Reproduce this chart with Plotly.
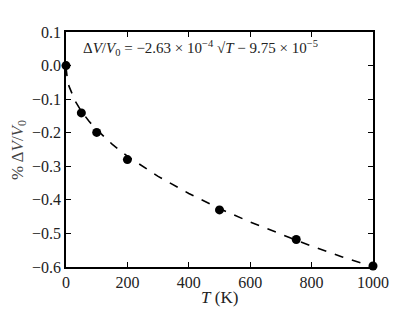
import plotly.graph_objects as go

# measured data points
T_pts = [0, 50, 100, 200, 500, 750, 1000]
dv_pts = [0.0, -0.141, -0.199, -0.280, -0.430, -0.518, -0.597]

# dashed fit curve
T_fit = [0, 2, 5, 10, 20, 30, 50, 75, 100, 150, 200, 300, 400, 500, 600, 700, 800, 900, 1000]
dv_fit = [-0.005, -0.03, -0.045, -0.062, -0.087, -0.106, -0.136, -0.166, -0.191, -0.234, -0.270,
          -0.330, -0.381, -0.426, -0.466, -0.503, -0.538, -0.570, -0.600]

x_ticks = [0, 200, 400, 600, 800, 1000]
y_ticks = [0.1, 0.0, -0.1, -0.2, -0.3, -0.4, -0.5, -0.6]

FONT = "Liberation Serif"

fig = go.Figure()
fig.add_trace(go.Scatter(x=T_fit, y=dv_fit, mode="lines",
                         line=dict(color="black", width=1.6, dash="dash"),
                         showlegend=False, hoverinfo="skip"))
fig.add_trace(go.Scatter(x=T_pts, y=dv_pts, mode="markers",
                         marker=dict(color="black", size=9),
                         showlegend=False, cliponaxis=False))

axis_common = dict(showline=True, linecolor="black", linewidth=1.5, mirror="ticks",
                   ticks="inside", ticklen=5, tickwidth=1, tickcolor="black",
                   showgrid=False, zeroline=False, automargin=False,
                   tickfont=dict(family=FONT, size=16, color="#222"))

fig.update_xaxes(range=[0, 1000], tickvals=x_ticks, ticktext=[str(v) for v in x_ticks],
                 **axis_common)
fig.update_yaxes(range=[-0.6, 0.1], tickvals=y_ticks,
                 ticktext=[("\u2212" if v < 0 else "") + f"{abs(v):.1f}" for v in y_ticks],
                 **axis_common)

# axis titles
fig.add_annotation(x=0.5, y=-0.128, xref="paper", yref="paper", xanchor="center", yanchor="middle",
                   text="<i>T</i> (K)", showarrow=False,
                   font=dict(family=FONT, size=17, color="#222"))
fig.add_annotation(x=-0.155, y=0.5, xref="paper", yref="paper", xanchor="center", yanchor="middle",
                   text="% Δ<i>V</i>/<i>V</i><sub>0</sub>", showarrow=False, textangle=-90,
                   font=dict(family=FONT, size=17, color="#444"))

# fit equation
fig.add_annotation(x=0.05, y=0.053, xref="paper", yref="y", xanchor="left", yanchor="middle",
                   text="Δ<i>V</i>/<i>V</i><sub>0</sub> = \u22122.63 × 10<sup>\u22124</sup> √<i>T</i>"
                        " \u2212 9.75 × 10<sup>\u22125</sup>",
                   showarrow=False, font=dict(family=FONT, size=15, color="#222"))

# page body adds an 8px margin, so the figure is sized to fit the window
fig.update_layout(width=407, height=304, margin=dict(l=58, r=42, t=24, b=45),
                  paper_bgcolor="white", plot_bgcolor="white")

fig.write_html("out.html")
